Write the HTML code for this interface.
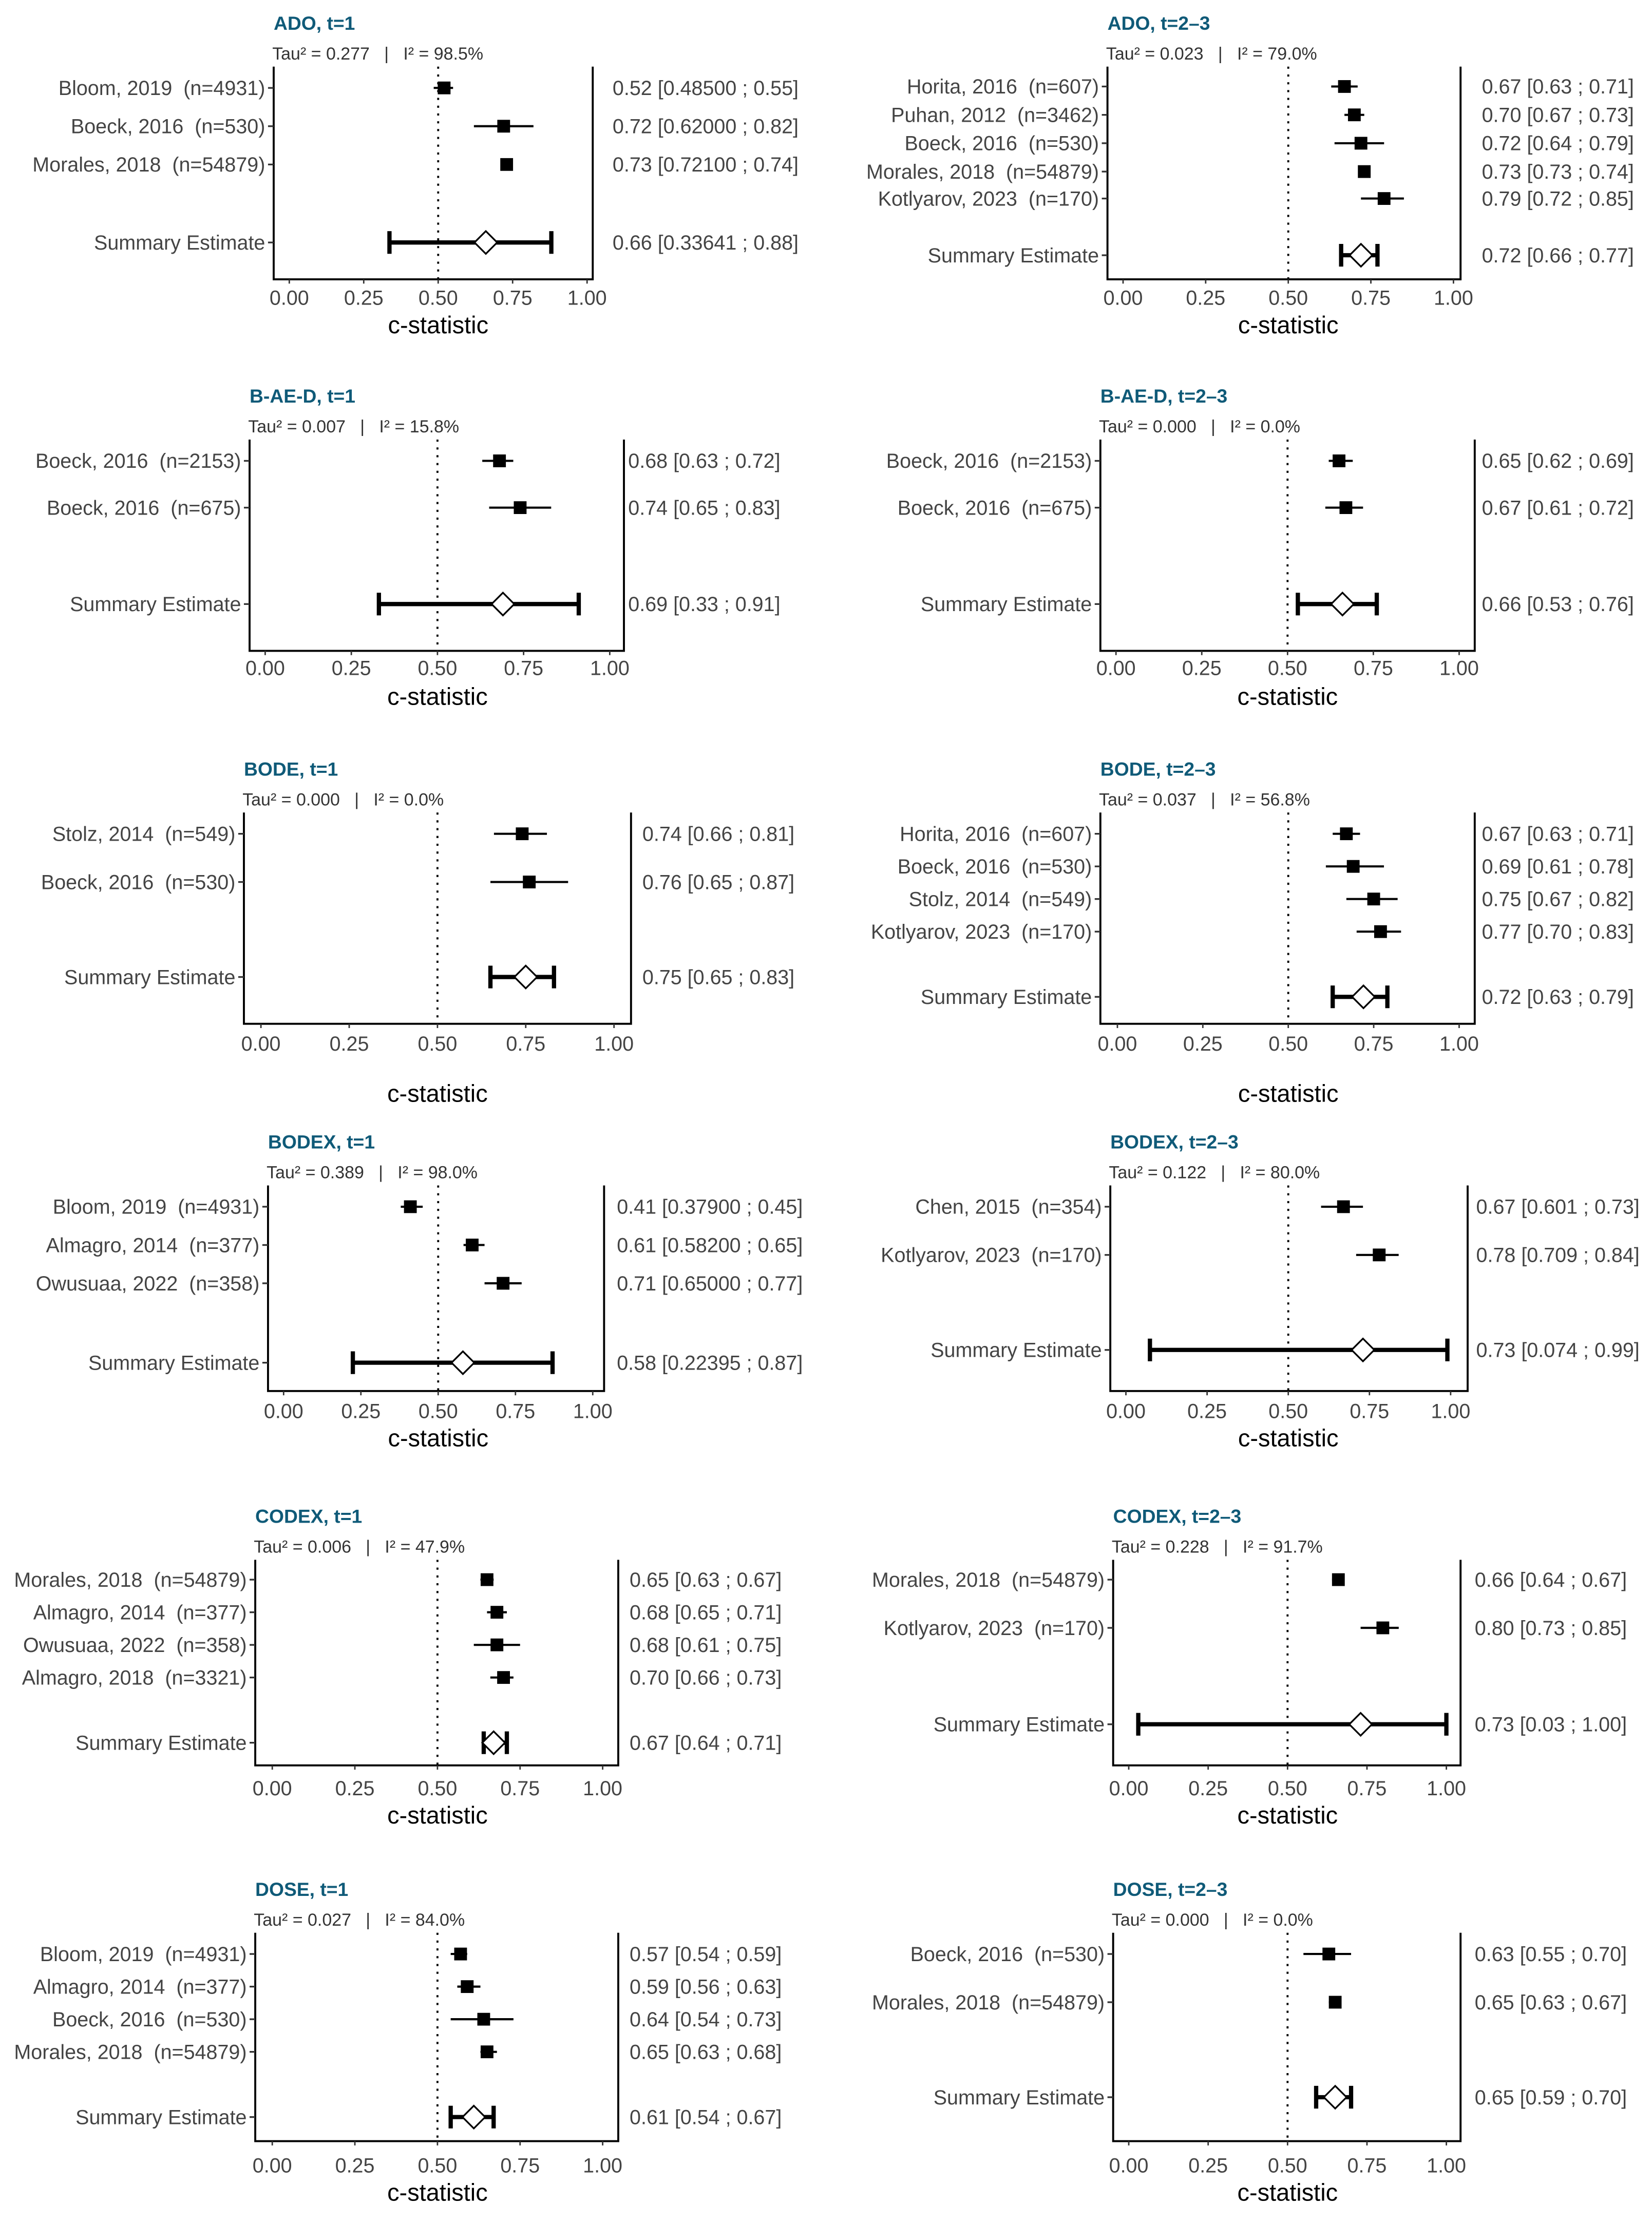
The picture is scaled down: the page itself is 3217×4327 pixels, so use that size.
<!DOCTYPE html>
<html><head><meta charset="utf-8">
<style>
html,body{margin:0;padding:0;background:#fff;}
svg{display:block;font-family:"Liberation Sans",sans-serif;}
svg text{white-space:pre;}
</style></head>
<body>
<svg id="chart" width="3217" height="4327" viewBox="0 0 1165 1567" xmlns="http://www.w3.org/2000/svg"></svg>
<script>
const panelTitles=["ADO, t=1","ADO, t=2–3","B-AE-D, t=1","B-AE-D, t=2–3","BODE, t=1","BODE, t=2–3","BODEX, t=1","BODEX, t=2–3","CODEX, t=1","CODEX, t=2–3","DOSE, t=1","DOSE, t=2–3"];
const panelStats=["Tau² = 0.277   |   I² = 98.5%","Tau² = 0.023   |   I² = 79.0%","Tau² = 0.007   |   I² = 15.8%","Tau² = 0.000   |   I² = 0.0%","Tau² = 0.000   |   I² = 0.0%","Tau² = 0.037   |   I² = 56.8%","Tau² = 0.389   |   I² = 98.0%","Tau² = 0.122   |   I² = 80.0%","Tau² = 0.006   |   I² = 47.9%","Tau² = 0.228   |   I² = 91.7%","Tau² = 0.027   |   I² = 84.0%","Tau² = 0.000   |   I² = 0.0%"];
const studyLabels=[
["Bloom, 2019  (n=4931)","Boeck, 2016  (n=530)","Morales, 2018  (n=54879)","Summary Estimate"],
["Horita, 2016  (n=607)","Puhan, 2012  (n=3462)","Boeck, 2016  (n=530)","Morales, 2018  (n=54879)","Kotlyarov, 2023  (n=170)","Summary Estimate"],
["Boeck, 2016  (n=2153)","Boeck, 2016  (n=675)","Summary Estimate"],
["Boeck, 2016  (n=2153)","Boeck, 2016  (n=675)","Summary Estimate"],
["Stolz, 2014  (n=549)","Boeck, 2016  (n=530)","Summary Estimate"],
["Horita, 2016  (n=607)","Boeck, 2016  (n=530)","Stolz, 2014  (n=549)","Kotlyarov, 2023  (n=170)","Summary Estimate"],
["Bloom, 2019  (n=4931)","Almagro, 2014  (n=377)","Owusuaa, 2022  (n=358)","Summary Estimate"],
["Chen, 2015  (n=354)","Kotlyarov, 2023  (n=170)","Summary Estimate"],
["Morales, 2018  (n=54879)","Almagro, 2014  (n=377)","Owusuaa, 2022  (n=358)","Almagro, 2018  (n=3321)","Summary Estimate"],
["Morales, 2018  (n=54879)","Kotlyarov, 2023  (n=170)","Summary Estimate"],
["Bloom, 2019  (n=4931)","Almagro, 2014  (n=377)","Boeck, 2016  (n=530)","Morales, 2018  (n=54879)","Summary Estimate"],
["Boeck, 2016  (n=530)","Morales, 2018  (n=54879)","Summary Estimate"]];
const estimates=[[0.52,0.72,0.73,0.66],[0.67,0.70,0.72,0.73,0.79,0.72],[0.68,0.74,0.69],[0.65,0.67,0.66],[0.74,0.76,0.75],[0.67,0.69,0.75,0.77,0.72],[0.41,0.61,0.71,0.58],[0.67,0.78,0.73],[0.65,0.68,0.68,0.70,0.67],[0.66,0.80,0.73],[0.57,0.59,0.64,0.65,0.61],[0.63,0.65,0.65]];
const lowers=[[0.485,0.62,0.721,0.33641],[0.63,0.67,0.64,0.73,0.72,0.66],[0.63,0.65,0.33],[0.62,0.61,0.53],[0.66,0.65,0.65],[0.63,0.61,0.67,0.70,0.63],[0.379,0.582,0.65,0.22395],[0.601,0.709,0.074],[0.63,0.65,0.61,0.66,0.64],[0.64,0.73,0.03],[0.54,0.56,0.54,0.63,0.54],[0.55,0.63,0.59]];
const uppers=[[0.55,0.82,0.74,0.88],[0.71,0.73,0.79,0.74,0.85,0.77],[0.72,0.83,0.91],[0.69,0.72,0.76],[0.81,0.87,0.83],[0.71,0.78,0.82,0.83,0.79],[0.45,0.65,0.77,0.87],[0.73,0.84,0.99],[0.67,0.71,0.75,0.73,0.71],[0.67,0.85,1.00],[0.59,0.63,0.73,0.68,0.67],[0.70,0.67,0.70]];
const ciText=[
["0.52 [0.48500 ; 0.55]","0.72 [0.62000 ; 0.82]","0.73 [0.72100 ; 0.74]","0.66 [0.33641 ; 0.88]"],
["0.67 [0.63 ; 0.71]","0.70 [0.67 ; 0.73]","0.72 [0.64 ; 0.79]","0.73 [0.73 ; 0.74]","0.79 [0.72 ; 0.85]","0.72 [0.66 ; 0.77]"],
["0.68 [0.63 ; 0.72]","0.74 [0.65 ; 0.83]","0.69 [0.33 ; 0.91]"],
["0.65 [0.62 ; 0.69]","0.67 [0.61 ; 0.72]","0.66 [0.53 ; 0.76]"],
["0.74 [0.66 ; 0.81]","0.76 [0.65 ; 0.87]","0.75 [0.65 ; 0.83]"],
["0.67 [0.63 ; 0.71]","0.69 [0.61 ; 0.78]","0.75 [0.67 ; 0.82]","0.77 [0.70 ; 0.83]","0.72 [0.63 ; 0.79]"],
["0.41 [0.37900 ; 0.45]","0.61 [0.58200 ; 0.65]","0.71 [0.65000 ; 0.77]","0.58 [0.22395 ; 0.87]"],
["0.67 [0.601 ; 0.73]","0.78 [0.709 ; 0.84]","0.73 [0.074 ; 0.99]"],
["0.65 [0.63 ; 0.67]","0.68 [0.65 ; 0.71]","0.68 [0.61 ; 0.75]","0.70 [0.66 ; 0.73]","0.67 [0.64 ; 0.71]"],
["0.66 [0.64 ; 0.67]","0.80 [0.73 ; 0.85]","0.73 [0.03 ; 1.00]"],
["0.57 [0.54 ; 0.59]","0.59 [0.56 ; 0.63]","0.64 [0.54 ; 0.73]","0.65 [0.63 ; 0.68]","0.61 [0.54 ; 0.67]"],
["0.63 [0.55 ; 0.70]","0.65 [0.63 ; 0.67]","0.65 [0.59 ; 0.70]"]];
const tickValues=[0,0.25,0.5,0.75,1];
const tickLabels=["0.00","0.25","0.50","0.75","1.00"];

const layout=[
{L:193,R:418,x0:204,x1:414,title:16,bottom:197,rows:[62,89,116,171],tick:210,xl:229,lab:432},
{L:781,R:1030,x0:792,x1:1025,title:16,bottom:197,rows:[61,81,101,121,140,180],tick:210,xl:229,lab:1045},
{L:176,R:440,x0:187,x1:430,title:279,bottom:459,rows:[325,358,426],tick:471,xl:491,lab:443},
{L:776,R:1040,x0:787,x1:1029,title:279,bottom:459,rows:[325,358,426],tick:471,xl:491,lab:1045},
{L:172,R:445,x0:184,x1:433,title:542,bottom:722,rows:[588,622,689],tick:736,xl:771,lab:453},
{L:776,R:1040,x0:788,x1:1029,title:542,bottom:722,rows:[588,611,634,657,703],tick:736,xl:771,lab:1045},
{L:189,R:426,x0:200,x1:418,title:805,bottom:981,rows:[851,878,905,961],tick:995,xl:1014,lab:435},
{L:783,R:1035,x0:794,x1:1023,title:805,bottom:981,rows:[851,885,952],tick:995,xl:1014,lab:1041},
{L:180,R:436,x0:192,x1:425,title:1069,bottom:1245,rows:[1114,1137,1160,1183,1229],tick:1261,xl:1280,lab:444},
{L:785,R:1030,x0:796,x1:1020,title:1069,bottom:1245,rows:[1114,1148,1216],tick:1261,xl:1280,lab:1040},
{L:180,R:436,x0:192,x1:425,title:1332,bottom:1510,rows:[1378,1401,1424,1447,1493],tick:1527,xl:1546,lab:444},
{L:785,R:1030,x0:796,x1:1020,title:1332,bottom:1510,rows:[1378,1412,1479],tick:1527,xl:1546,lab:1040}];

const NS="http://www.w3.org/2000/svg";
const svg=document.getElementById('chart');
function mk(tag,attrs,parent,text){const e=document.createElementNS(NS,tag);for(const k in attrs)e.setAttribute(k,attrs[k]);if(text!==undefined)e.textContent=text;parent.appendChild(e);return e;}
const FS=14.3;
panelTitles.forEach((t,p)=>{
  const g=mk('g',{},svg);
  
  
  const G=layout[p];
  const xs=v=>G.x0+(G.x1-G.x0)*v;
  const top=G.title+31;
  const tt=mk('text',{x:G.L,y:G.title+5,'font-size':13.5,'font-weight':'bold',fill:'#0f5a78'},g,t);
  
  
  const st=mk('text',{x:G.L-1,y:G.title+26,'font-size':12.3,fill:'#333'},g,panelStats[p]);
  
  
  const ax=mk('path',{d:`M${G.L},${top} V${G.bottom} H${G.R} V${top}`,fill:'none',stroke:'#000','stroke-width':1.4},g);
  
  
  const ref=mk('line',{x1:xs(0.5),x2:xs(0.5),y1:top,y2:G.bottom,stroke:'#000','stroke-width':1.4,'stroke-dasharray':'1.5 4'},g);
  
  
  tickValues.forEach((v,i)=>{
    mk('line',{x1:xs(v),x2:xs(v),y1:G.bottom,y2:G.bottom+3,stroke:'#333','stroke-width':1},g);
    const tl=mk('text',{x:xs(v),y:G.tick+5,'font-size':FS,fill:'#444','text-anchor':'middle'},g,tickLabels[i]);
    
    
  });
  const xl=mk('text',{x:xs(0.5),y:G.xl+6,'font-size':17,fill:'#000','text-anchor':'middle'},g,'c-statistic');
  
  
  const n=studyLabels[p].length;
  studyLabels[p].forEach((lab,i)=>{
    const y=G.rows[i];
    mk('line',{x1:G.L-4,x2:G.L,y1:y,y2:y,stroke:'#333','stroke-width':1.2},g);
    const lt=mk('text',{x:G.L-6,y:y+5,'font-size':FS,fill:'#444','text-anchor':'end'},g,lab);
    
    
    const rt=mk('text',{x:G.lab,y:y+5,'font-size':FS,fill:'#444'},g,ciText[p][i]);
    
    
    const e=estimates[p][i],lo=lowers[p][i],hi=uppers[p][i];
    if(i===n-1){
      const s=mk('g',{},g);
      
      
      mk('line',{x1:xs(lo),x2:xs(hi),y1:y,y2:y,stroke:'#000','stroke-width':3},s);
      mk('line',{x1:xs(lo),x2:xs(lo),y1:y-8,y2:y+8,stroke:'#000','stroke-width':3},s);
      mk('line',{x1:xs(hi),x2:xs(hi),y1:y-8,y2:y+8,stroke:'#000','stroke-width':3},s);
      const c=xs(e);
      mk('polygon',{points:`${c-8},${y} ${c},${y-8} ${c+8},${y} ${c},${y+8}`,fill:'#fff',stroke:'#000','stroke-width':1.2},s);
    } else {
      const s=mk('g',{},g);
      
      
      mk('line',{x1:xs(lo),x2:xs(hi),y1:y,y2:y,stroke:'#000','stroke-width':1.5},s);
      mk('rect',{x:xs(e)-4.5,y:y-4.5,width:9,height:9,fill:'#000'},s);
    }
  });
});
</script>
</body></html>
